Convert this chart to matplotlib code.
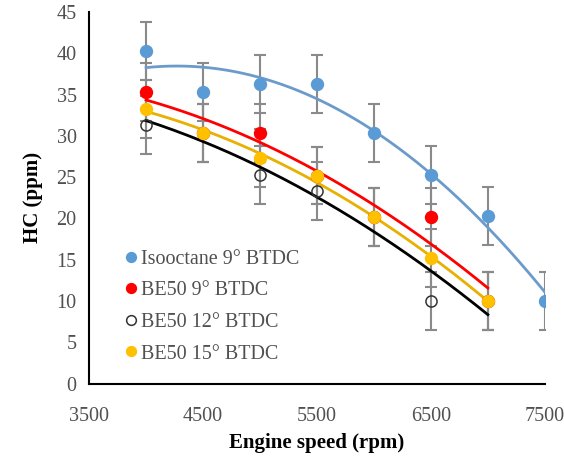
import numpy as np
import matplotlib
matplotlib.use("Agg")
import matplotlib.pyplot as plt
from matplotlib.lines import Line2D

# engine speed (rpm)
speed_iso = [4000, 4500, 5000, 5500, 6000, 6500, 7000, 7500]
speed_be = [4000, 4500, 5000, 5500, 6000, 6500, 7000]

# HC (ppm)
hc_iso9 = [40.3, 35.3, 36.3, 36.3, 30.3, 25.3, 20.3, 10]
hc_be9 = [35.3, 30.3, 30.3, 25.2, 20.2, 20.2, 10]
hc_be12 = [31.3, 30.3, 25.3, 23.3, 20.2, 10, 10]
hc_be15 = [33.3, 30.3, 27.3, 25.2, 20.2, 15.2, 10]
err = 3.5

labels = ["Isooctane 9° BTDC", "BE50 9° BTDC", "BE50 12° BTDC", "BE50 15° BTDC"]

plt.rcParams['font.family'] = ['Liberation Serif', 'DejaVu Serif']

fig = plt.figure(figsize=(5.64, 4.59), dpi=100)
ax = fig.add_axes([0.158, 0.164, 0.808, 0.81])

series = [
    (speed_iso, hc_iso9, "#5B9BD5", "#6c9bcb", "#5B9BD5", "#5B9BD5"),
    (speed_be, hc_be9, "#FF0000", "#FF0000", "#FF0000", "#FF0000"),
    (speed_be, hc_be12, "#000000", "#000000", "none", "#333333"),
    (speed_be, hc_be15, "#FFC000", "#E8B000", "#FFC000", "#FFC000"),
]

for x, y, col, tcol, face, edge in series:
    ax.errorbar(x, y, yerr=err, fmt='none', ecolor='#8a8a8a', elinewidth=1.5,
                capsize=4.5, capthick=1.5, zorder=1)

for x, y, col, tcol, face, edge in series:
    coef = np.polyfit(x, y, 2)
    xs = np.linspace(min(x), max(x), 200)
    ax.plot(xs, np.polyval(coef, xs), color=tcol, lw=2, zorder=2)

handles = []
for (x, y, col, tcol, face, edge), lab in zip(series, labels):
    hollow = face == "none"
    ms = 8 if hollow else 8.5
    ax.plot(x, y, 'o', ms=ms, mfc=face, mec=edge, mew=1.1, ls='none', zorder=3)
    handles.append(Line2D([], [], marker='o', ls='none', ms=7, mfc=face,
                          mec=edge, mew=1.1, label=lab))

ax.set_xlim(3500, 7500)
ax.set_ylim(0, 45)
ax.set_xticks([3500, 4500, 5500, 6500, 7500])
ax.set_yticks(range(0, 46, 5))
ax.tick_params(length=0, labelsize=14.5, colors='#505050', pad=9)
ax.tick_params(axis='x', pad=17)
for s in ['top', 'right']:
    ax.spines[s].set_visible(False)
for s in ['left', 'bottom']:
    ax.spines[s].set_linewidth(1.5)

ax.set_xlabel("Engine speed (rpm)", fontsize=15, fontweight='bold', labelpad=5)
ax.set_ylabel("HC (ppm)", fontsize=15, fontweight='bold', labelpad=10)

leg = ax.legend(handles=handles, loc='upper left', bbox_to_anchor=(0.203, 0.478),
                bbox_transform=fig.transFigure, frameon=False, fontsize=14.5,
                handlelength=0.6, handletextpad=0.2, labelspacing=0.62,
                borderpad=0, labelcolor='#505050')

fig.savefig("out.png", dpi=100)
